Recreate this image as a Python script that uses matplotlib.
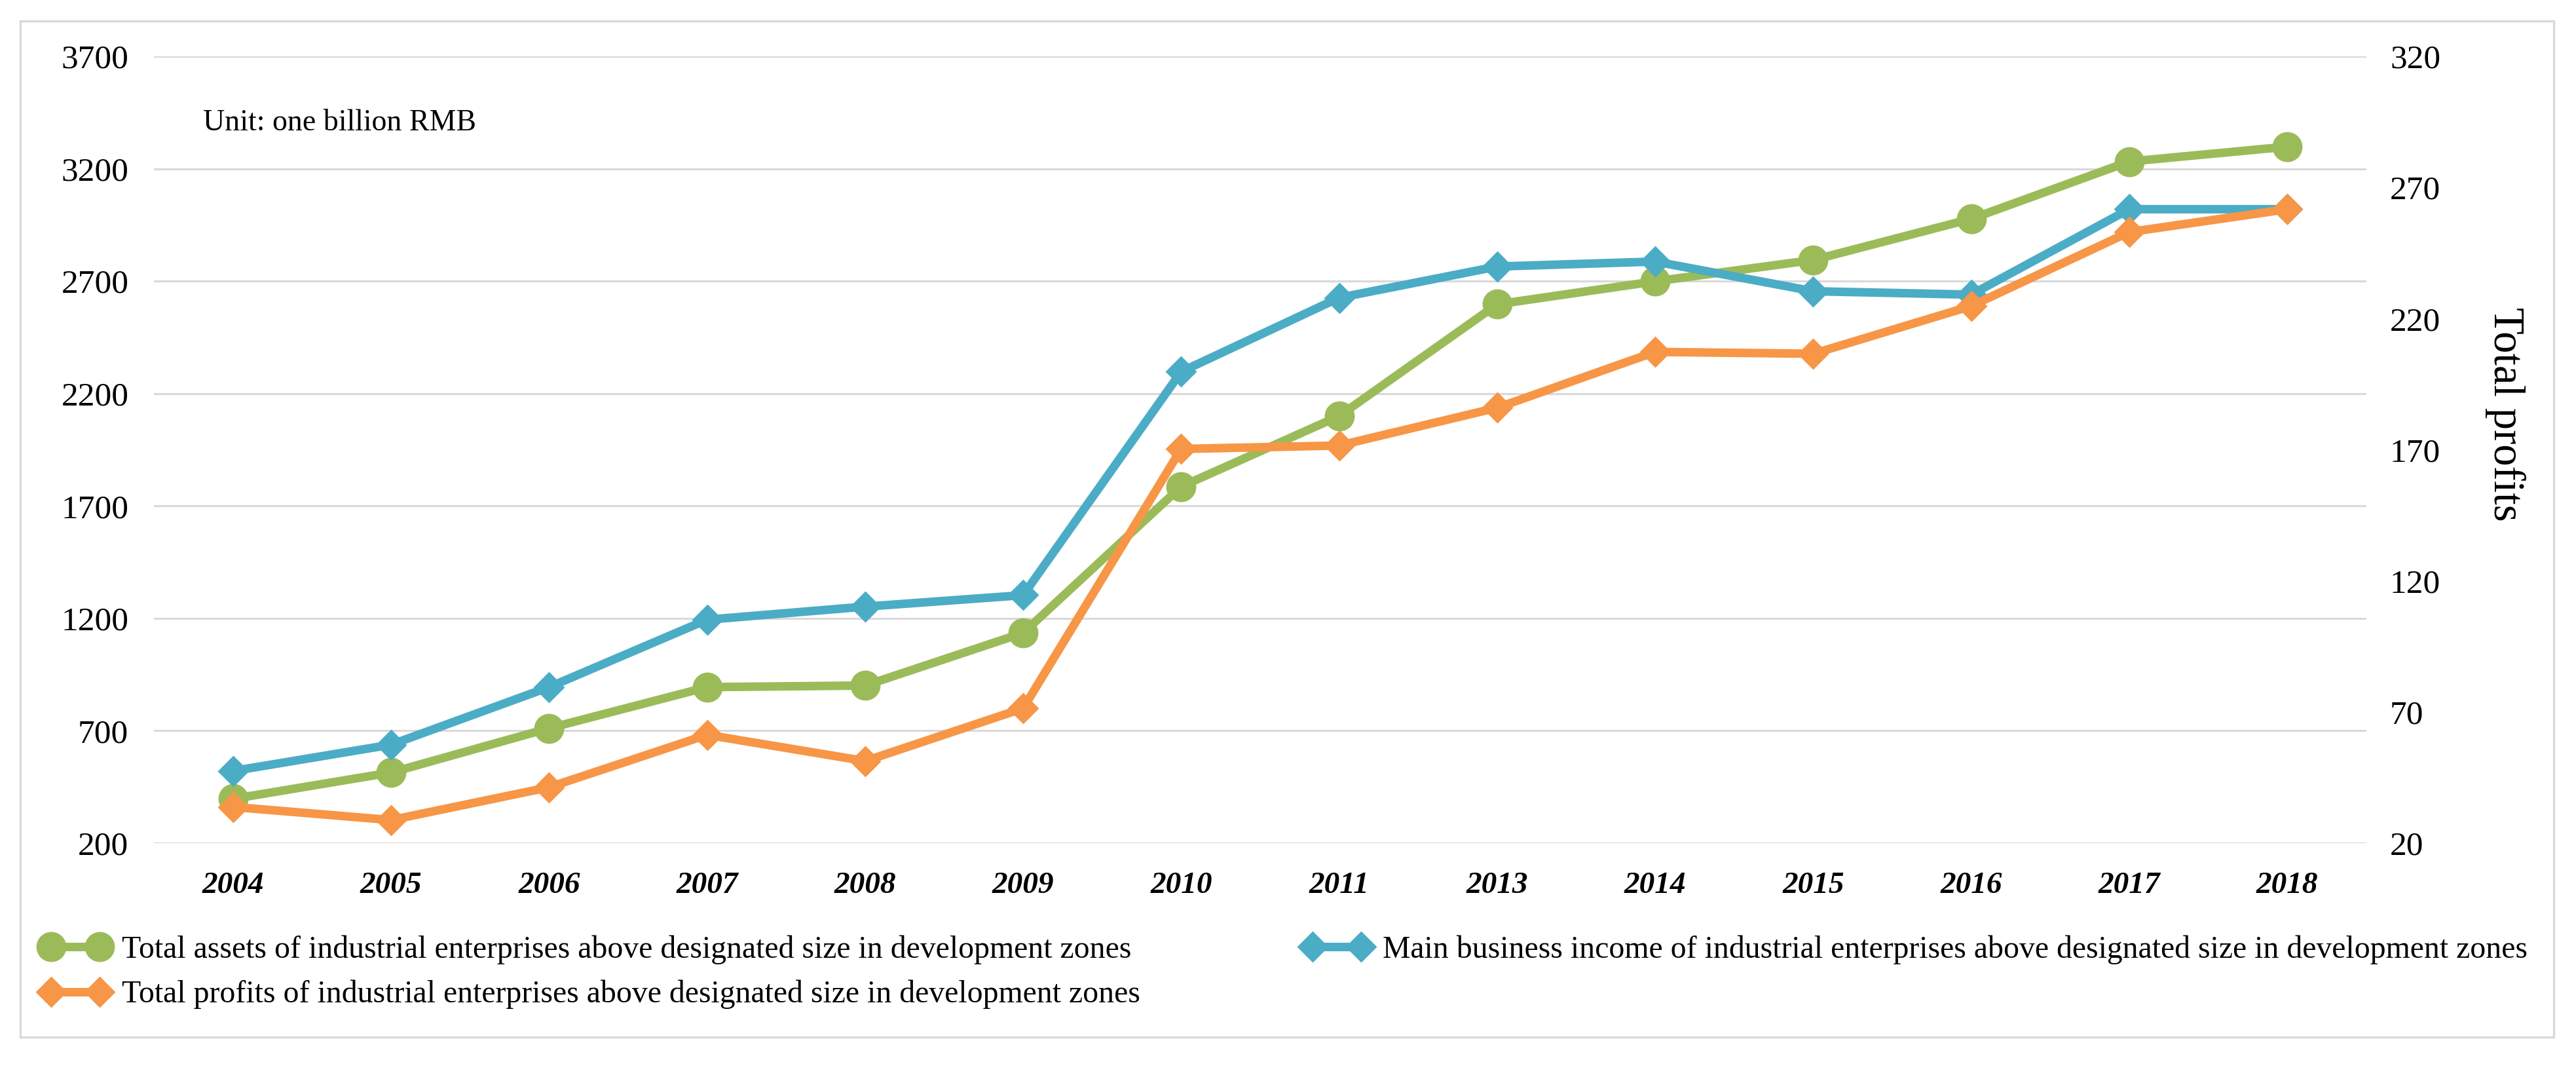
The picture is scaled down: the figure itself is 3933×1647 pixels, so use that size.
import matplotlib
matplotlib.use("Agg")
import matplotlib.pyplot as plt
from matplotlib.patches import Rectangle

# data
years = ["2004", "2005", "2006", "2007", "2008", "2009", "2010",
         "2011", "2013", "2014", "2015", "2016", "2017", "2018"]
total_assets = [397, 514, 711, 894, 901, 1135, 1786,
                2100, 2597, 2699, 2794, 2977, 3232, 3298]
main_income = [521, 638, 894, 1194, 1252, 1303, 2297,
               2626, 2765, 2787, 2655, 2640, 3020, 3020]
total_profits = [33.8, 28.8, 41.3, 61.3, 51.3, 71.4, 170.3,
                 171.6, 186.0, 207.3, 206.6, 224.8, 253.0, 261.7]

left_ticks = [200, 700, 1200, 1700, 2200, 2700, 3200, 3700]
right_ticks = [20, 70, 120, 170, 220, 270, 320]

labels = ["Total assets of industrial enterprises above designated size in development zones",
          "Main business income of industrial enterprises above designated size in development zones",
          "Total profits of industrial enterprises above designated size in development zones"]

GREEN = "#9BBB59"
BLUE = "#4BACC6"
ORANGE = "#F79646"

plt.rcParams['font.family'] = ['Liberation Serif', 'DejaVu Serif']

fig = plt.figure(figsize=(19.665, 8.235), dpi=200)
ax = fig.add_axes([0.0598, 0.2186, 0.9186 - 0.0598, 0.9478 - 0.2186])
ax2 = ax.twinx()

x = list(range(len(years)))
l1, = ax.plot(x, total_assets, color=GREEN, lw=4.7, marker='o', ms=15.5, zorder=3)
l2, = ax.plot(x, main_income, color=BLUE, lw=4.7, marker='D', ms=11, zorder=4)
l3, = ax2.plot(x, total_profits, color=ORANGE, lw=4.7, marker='D', ms=11, zorder=3)

ax.set_xlim(-0.5, len(years) - 0.5)
ax.set_ylim(200, 3700)
ax.set_yticks(left_ticks)
ax2.set_ylim(20, 320)
ax2.set_yticks(right_ticks)

ax.set_xticks(x)
ax.set_xticklabels(years, fontsize=17, fontweight='bold', fontstyle='italic')
ax.tick_params(axis='x', length=0, pad=16)
ax.tick_params(axis='y', length=0, pad=14, labelsize=18.5)
ax2.tick_params(axis='y', length=0, pad=13, labelsize=18.5)

ax.grid(axis='y', color='#d9d9d9', lw=1.1)
ax.set_axisbelow(True)
for a in (ax, ax2):
    for s in a.spines.values():
        s.set_visible(False)

# right axis title, sits a bit above the middle like the original
fig.text(0.9725, 0.616, "Total profits", fontsize=24, rotation=270,
         ha='center', va='center')

ax.text(0.022, 0.915, "Unit: one billion RMB", transform=ax.transAxes,
        fontsize=16.5, va='center', ha='left')

fig.legend([l1, l3, l2], [labels[0], labels[2], labels[1]],
           loc='center left', bbox_to_anchor=(0.0163, 0.099), ncol=2,
           frameon=False, fontsize=17.2, handlelength=2.15, handletextpad=0.4,
           labelspacing=0.5, columnspacing=5.2, numpoints=2, borderpad=0,
           borderaxespad=0)

# light outer border of the chart
fig.patches.append(Rectangle((31 / 3933, 1 - 1583 / 1647), (3899 - 31) / 3933,
                             (1583 - 32) / 1647, transform=fig.transFigure,
                             fill=False, edgecolor='#d9d9d9', lw=1.2))

fig.savefig("out.png", dpi=200, facecolor='white')
